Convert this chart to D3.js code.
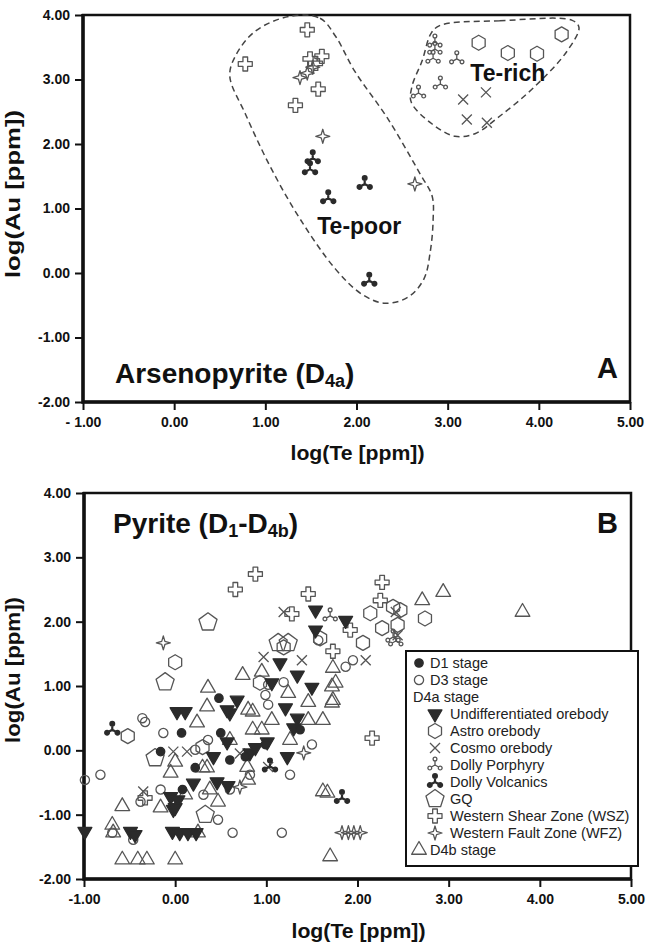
<!DOCTYPE html>
<html>
<head>
<meta charset="utf-8">
<script src="https://cdn.jsdelivr.net/npm/d3@7"></script>
<style>
  html, body { margin: 0; padding: 0; background: #fff; }
  svg { display: block; }
</style>
</head>
<body>
<div id="chart"></div>
<script>
// ---- Data: log(Te) / log(Au) pairs ----
const axisTicks = [-2, -1, 0, 1, 2, 3, 4, 5];
const xTickLabelsA = { "-1": "- 1.00", "0": "0.00", "1": "1.00", "2": "2.00", "3": "3.00", "4": "4.00", "5": "5.00" };
const xTickLabelsB = { "-1": "-1.00", "0": "0.00", "1": "1.00", "2": "2.00", "3": "3.00", "4": "4.00", "5": "5.00" };
const yTickLabels = { "-2": "-2.00", "-1": "-1.00", "0": "0.00", "1": "1.00", "2": "2.00", "3": "3.00", "4": "4.00" };

// Panel A - arsenopyrite (D4a)
const arsWSZ = [[1.46, 3.77], [0.78, 3.24], [1.49, 3.32], [1.62, 3.36], [1.55, 3.25], [1.58, 2.85], [1.33, 2.60]];
const arsWFZ = [[1.38, 3.03], [1.46, 3.10], [1.52, 3.19], [1.63, 2.12], [2.64, 1.38]];
const arsDollyVolc = [[1.52, 1.78], [1.49, 1.61], [1.69, 1.16], [2.09, 1.38], [2.14, -0.12]];
const arsDollyPorph = [[2.86, 3.58], [2.86, 3.47], [2.84, 3.33], [3.10, 3.32], [2.92, 2.93], [2.68, 2.79]];
const arsAstro = [[3.34, 3.57], [3.66, 3.41], [3.98, 3.40], [4.25, 3.70]];
const arsCosmo = [[3.17, 2.69], [3.42, 2.80], [3.21, 2.38], [3.43, 2.33]];

// Te-poor / Te-rich outlines (data units)
const tePoorOutline = [[1.27, 3.98], [1.60, 3.95], [1.77, 3.67], [1.98, 3.13], [2.34, 2.40], [2.70, 1.53], [2.83, 1.19],
  [2.84, 0.81], [2.81, 0.34], [2.74, -0.09], [2.57, -0.37], [2.31, -0.47], [2.06, -0.33], [1.77, 0.06], [1.38, 0.84],
  [1.05, 1.66], [0.78, 2.47], [0.61, 3.05], [0.67, 3.36], [0.89, 3.75]];
const teRichOutline = [[2.92, 3.84], [3.57, 3.91], [4.36, 3.92], [4.44, 3.81], [4.31, 3.44], [3.94, 2.87], [3.57, 2.43],
  [3.30, 2.16], [3.08, 2.12], [2.83, 2.31], [2.60, 2.65], [2.61, 2.90], [2.72, 3.29], [2.82, 3.72]];

// Panel B - pyrite (D1-D4b)
const pyD1 = [[0.48, 0.81], [0.07, 0.27], [0.50, 0.27], [0.22, -0.27], [0.77, -0.10], [0.99, 0.09], [-0.16, -0.02],
  [0.08, -0.61], [1.37, 0.32], [0.60, -0.15]];
const pyD3 = [[-0.99, -0.46], [-0.82, -0.38], [-0.36, 0.50], [-0.33, 0.44], [-0.13, 0.27], [0.22, 0.01], [0.63, -1.28],
  [1.17, -1.28], [0.47, -1.08], [0.31, -0.69], [-0.38, -0.80], [-0.46, -1.39], [-0.69, -1.28], [1.87, 1.30], [1.95, 1.40],
  [1.57, 1.71], [1.02, 1.02], [0.99, 0.86], [1.02, 0.71], [1.19, 1.06], [0.36, 0.16], [0.82, -0.38], [1.26, -0.38],
  [0.60, -0.61], [1.50, 0.09], [-0.16, -0.61]];
const pyUndiff = [[-0.99, -1.26], [-0.49, -1.26], [-0.44, -1.31], [-0.03, -1.26], [0.05, -1.28], [0.14, -1.28], [0.23, -1.28],
  [0.02, 0.60], [0.11, 0.60], [0.60, 0.58], [0.68, 0.78], [0.57, 0.63], [-0.05, -0.72], [-0.02, -0.92], [0.03, -0.77],
  [0.42, -0.10], [0.57, 0.13], [0.46, -0.49], [0.58, -0.55], [0.20, -0.51], [1.01, 0.13], [1.23, -0.10], [1.30, 0.35],
  [1.54, 2.18], [1.54, 1.87], [1.87, 2.02], [1.15, 1.36], [1.34, 1.17], [1.50, 0.98], [1.06, 1.05], [1.21, 0.66],
  [1.34, 0.50], [0.82, -0.04], [0.88, 0.04], [0.00, -0.89]];
const pyAstro = [[0.00, 1.37], [-0.52, 0.22], [2.14, 2.13], [2.27, 1.90], [2.44, 1.95], [2.39, 2.23], [2.06, 1.67],
  [1.59, 1.74], [2.74, 2.05], [2.47, 2.18], [0.93, 1.05], [1.19, 1.60], [0.30, 0.05]];
const pyCosmo = [[1.19, 2.15], [0.97, 1.45], [1.39, 1.40], [2.09, 1.40], [2.42, 2.15], [2.44, 1.79], [-0.02, -0.02],
  [0.13, -0.02], [-0.35, -0.64], [1.02, -0.26], [0.71, -0.05]];
const pyDollyPorph = [[1.70, 2.09], [2.39, 1.76], [2.42, 1.70]];
const pyDollyVolc = [[-0.69, 0.32], [1.83, -0.74], [1.04, -0.25]];
const pyGQ = [[0.36, 1.99], [-0.11, 1.06], [1.13, 1.67], [1.24, 1.67], [-0.22, -0.12], [0.33, -1.00]];
const pyWSZ = [[0.88, 2.74], [0.66, 2.50], [1.46, 2.43], [1.28, 2.12], [2.27, 2.61], [2.25, 2.33], [1.92, 1.87],
  [1.73, 1.54], [2.16, 0.19], [-0.33, -0.74]];
const pyWFZ = [[-0.13, 1.67], [1.41, -0.04], [0.71, -0.57], [1.83, -1.28], [1.90, -1.28], [1.96, -1.28], [2.03, -1.28]];
const pyD4b = [[3.81, 2.15], [2.94, 2.46], [2.71, 2.33], [1.73, 1.28], [1.72, 0.99], [1.73, 0.78], [1.67, -0.66],
  [1.70, -1.65], [-0.58, -1.70], [-0.41, -1.70], [-0.31, -1.70], [0.00, -1.70], [-0.69, -1.16], [-0.68, -1.28],
  [-0.58, -0.87], [0.25, -1.28], [0.47, -0.80], [0.35, 0.68], [0.80, 0.63], [0.00, -0.18], [-0.05, -0.35], [0.30, -0.27],
  [0.35, -0.27], [0.74, 1.17], [0.36, 0.97], [0.24, 0.43], [0.95, 1.22], [0.85, 0.60], [1.76, 1.05], [1.72, 0.74],
  [1.46, 0.75], [1.24, 0.89], [1.06, 0.47], [1.46, 0.47], [1.62, 0.47], [0.80, -0.46], [0.79, -0.26], [0.85, 0.32],
  [1.62, -0.64], [0.38, -0.61], [-0.16, -0.89], [0.11, -0.69], [0.95, 0.32], [1.26, 0.16], [0.60, 0.16]];

const legendItems = [
  { label: "D1 stage", sym: "dot", indent: 0 },
  { label: "D3 stage", sym: "ring", indent: 0 },
  { label: "D4a stage", sym: null, indent: 0 },
  { label: "Undifferentiated orebody", sym: "down", indent: 1 },
  { label: "Astro orebody", sym: "hex", indent: 1 },
  { label: "Cosmo orebody", sym: "times", indent: 1 },
  { label: "Dolly Porphyry", sym: "wyeOpen", indent: 1 },
  { label: "Dolly Volcanics", sym: "wyeFill", indent: 1 },
  { label: "GQ", sym: "pent", indent: 1 },
  { label: "Western Shear Zone (WSZ)", sym: "cross", indent: 1 },
  { label: "Western Fault Zone (WFZ)", sym: "star4", indent: 1 },
  { label: "D4b stage", sym: "tri", indent: 0 }
];

// ---- Style ----
const style = {
  font: "'Liberation Sans', Arial, Helvetica, sans-serif",
  ink: "#111",
  markStroke: "#555",
  markFill: "#2b2b2b",
  markWidth: 1.3
};

// ---- Marker shapes ----
function polygon(n, r, rot) {
  const pts = d3.range(n).map(i => {
    const a = rot + i * 2 * Math.PI / n;
    return [r * Math.sin(a), -r * Math.cos(a)];
  });
  return "M" + pts.map(p => p[0].toFixed(2) + "," + p[1].toFixed(2)).join("L") + "Z";
}
function star4(r) {
  const pts = d3.range(8).map(i => {
    const a = i * Math.PI / 4, rr = i % 2 ? r * 0.32 : r;
    return [rr * Math.sin(a), -rr * Math.cos(a)];
  });
  return "M" + pts.map(p => p[0].toFixed(2) + "," + p[1].toFixed(2)).join("L") + "Z";
}
function crossShape(s) {
  const a = s / 2, b = s / 6;
  return `M${-b},${-a}H${b}V${-b}H${a}V${b}H${b}V${a}H${-b}V${b}H${-a}V${-b}H${-b}Z`;
}
function timesShape(s) {
  const a = s / 2;
  return `M${-a},${-a}L${a},${a}M${-a},${a}L${a},${-a}`;
}
function wyeShape(len, lobe) {
  let p = "";
  [0, 120, 240].forEach(deg => {
    const a = deg * Math.PI / 180;
    const cx = len * Math.sin(a), cy = -len * Math.cos(a);
    const sx = (len - lobe) * Math.sin(a), sy = -(len - lobe) * Math.cos(a);
    p += `M0,0L${sx.toFixed(2)},${sy.toFixed(2)}`;
    p += `M${(cx + lobe).toFixed(2)},${cy.toFixed(2)}A${lobe},${lobe} 0 1 1 ${(cx - lobe).toFixed(2)},${cy.toFixed(2)}A${lobe},${lobe} 0 1 1 ${(cx + lobe).toFixed(2)},${cy.toFixed(2)}`;
  });
  return p;
}
function circleShape(r) {
  return `M${r},0A${r},${r} 0 1 1 ${-r},0A${r},${r} 0 1 1 ${r},0Z`;
}

const symbols = {
  dot:     { d: circleShape(4.2), filled: true },
  ring:    { d: circleShape(4.6), filled: false },
  down:    { d: polygon(3, 8, Math.PI), filled: true },
  tri:     { d: polygon(3, 8.5, 0), filled: false },
  hex:     { d: polygon(6, 7.5, 0), filled: false },
  pent:    { d: polygon(5, 9.5, 0), filled: false },
  cross:   { d: crossShape(14), filled: false },
  star4:   { d: star4(7), filled: false },
  times:   { d: timesShape(10), filled: false },
  wyeOpen: { d: wyeShape(6, 1.9), filled: false, width: 1.3 },
  wyeFill: { d: wyeShape(6, 1.9), filled: true, width: 2.2 }
};

function applySymbol(sel, s) {
  sel.attr("d", s.d)
    .attr("fill", s.filled ? style.markFill : "none")
    .attr("stroke", s.filled ? style.markFill : style.markStroke)
    .attr("stroke-width", s.width || style.markWidth)
    .attr("stroke-linejoin", "round");
}

function drawMarks(g, data, sym, x, y) {
  g.append("g").selectAll("path")
    .data(data)
    .enter()
    .append("path")
    .attr("transform", d => `translate(${x(d[0])},${y(d[1])})`)
    .call(applySymbol, symbols[sym]);
}

// ---- SVG ----
const W = 646, H = 946;
const svg = d3.select("#chart").append("svg")
  .attr("width", W).attr("height", H)
  .style("font-family", style.font);

function drawFrame(box, x, y, xLabels, xTitleY, yTitleCenter, yTitleLen) {
  const g = svg.append("g");
  const xAxis = g.append("g")
    .attr("transform", `translate(0,${box.bottom})`)
    .call(d3.axisBottom(x).tickValues(axisTicks.filter(t => t >= -1)).tickSize(8).tickPadding(7)
      .tickFormat(d => xLabels[String(d)]));
  const yAxis = g.append("g")
    .attr("transform", `translate(${box.left},0)`)
    .call(d3.axisLeft(y).tickValues(axisTicks.filter(t => t <= 4)).tickSize(8).tickPadding(5)
      .tickFormat(d => yTickLabels[String(d)]));
  [xAxis, yAxis].forEach(ax => {
    ax.select(".domain").remove();
    ax.selectAll(".tick line").attr("stroke", style.ink).attr("stroke-width", 2);
    ax.selectAll(".tick text")
      .attr("fill", style.ink)
      .style("font-size", "14px")
      .style("font-weight", "bold")
      .style("font-family", style.font);
  });

  g.append("rect")
    .attr("x", box.left).attr("y", box.top)
    .attr("width", box.right - box.left).attr("height", box.bottom - box.top)
    .attr("fill", "none").attr("stroke", style.ink).attr("stroke-width", 2.5);
  g.append("path")
    .attr("d", `M${box.left},${box.top - 1}V${box.bottom}H${box.right + 1}`)
    .attr("fill", "none").attr("stroke", style.ink).attr("stroke-width", 3.5);

  g.append("text")
    .attr("x", (box.left + box.right) / 2 + 1).attr("y", xTitleY)
    .attr("text-anchor", "middle")
    .attr("textLength", 134).attr("lengthAdjust", "spacingAndGlyphs")
    .style("font-size", "20px").style("font-weight", "bold").attr("fill", style.ink)
    .text("log(Te [ppm])");
  g.append("text")
    .attr("transform", `translate(20,${yTitleCenter}) rotate(-90)`)
    .attr("text-anchor", "middle")
    .attr("textLength", yTitleLen).attr("lengthAdjust", "spacingAndGlyphs")
    .style("font-size", "20px").style("font-weight", "bold").attr("fill", style.ink)
    .text("log(Au [ppm])");
  return g;
}

// ---- Panel A ----
const boxA = { left: 83, right: 630, top: 15, bottom: 402 };
const xA = d3.scaleLinear().domain([-1, 5]).range([boxA.left, boxA.right]);
const yA = d3.scaleLinear().domain([-2, 4]).range([boxA.bottom, boxA.top]);
const gA = drawFrame(boxA, xA, yA, xTickLabelsA, 460, 194, 168);

const outline = d3.line().x(d => xA(d[0])).y(d => yA(d[1])).curve(d3.curveCatmullRomClosed.alpha(0.5));
[tePoorOutline, teRichOutline].forEach(o => {
  gA.append("path").attr("d", outline(o))
    .attr("fill", "none").attr("stroke", "#444").attr("stroke-width", 1.5)
    .attr("stroke-dasharray", "6,4");
});

drawMarks(gA, arsWSZ, "cross", xA, yA);
drawMarks(gA, arsWFZ, "star4", xA, yA);
drawMarks(gA, arsDollyVolc, "wyeFill", xA, yA);
drawMarks(gA, arsDollyPorph, "wyeOpen", xA, yA);
drawMarks(gA, arsAstro, "hex", xA, yA);
drawMarks(gA, arsCosmo, "times", xA, yA);

gA.append("text").attr("x", xA(2.03)).attr("y", yA(0.60)).attr("text-anchor", "middle")
  .style("font-size", "23px").style("font-weight", "bold").attr("fill", style.ink).text("Te-poor");
gA.append("text").attr("x", xA(3.66)).attr("y", yA(2.98)).attr("text-anchor", "middle")
  .style("font-size", "23px").style("font-weight", "bold").attr("fill", style.ink).text("Te-rich");

const titleA = gA.append("text").attr("x", 115).attr("y", 383)
  .style("font-size", "28px").style("font-weight", "bold").attr("fill", style.ink);
titleA.append("tspan").text("Arsenopyrite (D");
titleA.append("tspan").attr("dy", 4).style("font-size", "18px").text("4a");
titleA.append("tspan").attr("dy", -4).text(")");
gA.append("text").attr("x", 618).attr("y", 378).attr("text-anchor", "end")
  .style("font-size", "29px").style("font-weight", "bold").attr("fill", style.ink).text("A");

// ---- Panel B ----
const boxB = { left: 84, right: 631, top: 493, bottom: 879 };
const xB = d3.scaleLinear().domain([-1, 5]).range([boxB.left, boxB.right]);
const yB = d3.scaleLinear().domain([-2, 4]).range([boxB.bottom, boxB.top]);
const gB = drawFrame(boxB, xB, yB, xTickLabelsB, 938, 670, 146);

drawMarks(gB, pyD3, "ring", xB, yB);
drawMarks(gB, pyD4b, "tri", xB, yB);
drawMarks(gB, pyAstro, "hex", xB, yB);
drawMarks(gB, pyGQ, "pent", xB, yB);
drawMarks(gB, pyCosmo, "times", xB, yB);
drawMarks(gB, pyWSZ, "cross", xB, yB);
drawMarks(gB, pyWFZ, "star4", xB, yB);
drawMarks(gB, pyDollyPorph, "wyeOpen", xB, yB);
drawMarks(gB, pyUndiff, "down", xB, yB);
drawMarks(gB, pyD1, "dot", xB, yB);
drawMarks(gB, pyDollyVolc, "wyeFill", xB, yB);

const titleB = gB.append("text").attr("x", 113).attr("y", 533)
  .style("font-size", "28px").style("font-weight", "bold").attr("fill", style.ink);
titleB.append("tspan").text("Pyrite (D");
titleB.append("tspan").attr("dy", 4).style("font-size", "18px").text("1");
titleB.append("tspan").attr("dy", -4).text("-D");
titleB.append("tspan").attr("dy", 4).style("font-size", "18px").text("4b");
titleB.append("tspan").attr("dy", -4).text(")");
gB.append("text").attr("x", 618).attr("y", 533).attr("text-anchor", "end")
  .style("font-size", "29px").style("font-weight", "bold").attr("fill", style.ink).text("B");

// ---- Legend ----
const legend = svg.append("g");
legend.append("rect")
  .attr("x", 406).attr("y", 651).attr("width", 232).attr("height", 215)
  .attr("fill", "#fff").attr("stroke", style.ink).attr("stroke-width", 2);
legendItems.forEach((item, i) => {
  const cy = 663 + i * 17;
  const mx = item.indent ? 435 : 419;
  const tx = item.sym ? (item.indent ? 450 : 430) : 413;
  if (item.sym) {
    legend.append("path")
      .attr("transform", `translate(${mx},${cy})`)
      .call(applySymbol, symbols[item.sym]);
  }
  legend.append("text")
    .attr("x", tx).attr("y", cy + 5)
    .style("font-size", "14.5px").attr("fill", "#222")
    .text(item.label);
});
</script>
</body>
</html>
